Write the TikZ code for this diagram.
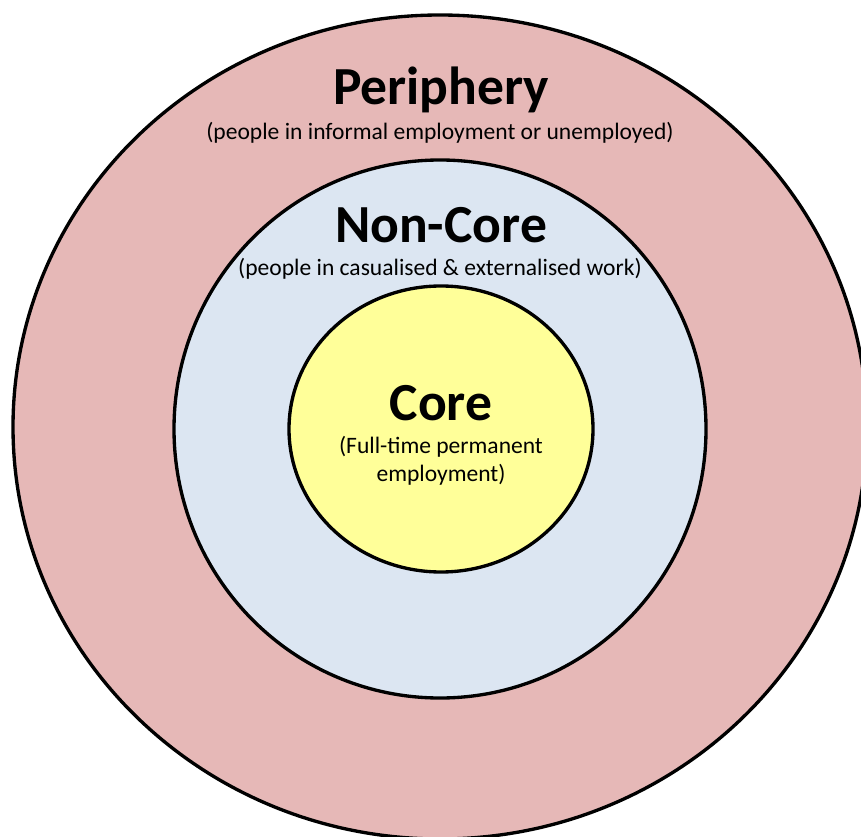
\documentclass[tikz,border=0pt]{standalone}
\usepackage{fontspec}
\setmainfont{Carlito}
\definecolor{periph}{HTML}{E6B8B7}
\definecolor{noncore}{HTML}{DCE6F2}
\definecolor{corefill}{HTML}{FFFF99}
\tikzset{
  ring/.style={draw=black,line width=1.9pt},
  title/.style={font=\bfseries\fontsize{30.5}{33}\selectfont,inner sep=0pt},
  subtitle/.style={font=\fontsize{13.4}{16}\selectfont,inner sep=0pt,align=center}
}
\begin{document}
\begin{tikzpicture}[x=0.02cm,y=-0.02cm]
\useasboundingbox (0,0) rectangle (861,837);
\begin{scope}
\clip (0,0) rectangle (861,837);
\draw[ring,fill=periph] (440,427) ellipse [x radius=427,y radius=412];
\end{scope}
\draw[ring,fill=noncore] (440,429) ellipse [x radius=266,y radius=269];
\draw[ring,fill=corefill] (441,429) ellipse [x radius=152,y radius=143];
% labels
\node[title] (periphery) at (441,90) {Periphery};
\node[subtitle] (periphery sub) at (440,133) {(people in informal employment or unemployed)};
\node[title] (noncore) at (441,225) {Non-Core};
\node[subtitle] (noncore sub) at (440,269) {(people in casualised \& externalised work)};
\node[title] (core) at (441,403) {Core};
\node[subtitle] (core sub) at (441,461) {(Full-time permanent\\employment)};
\end{tikzpicture}
\end{document}
